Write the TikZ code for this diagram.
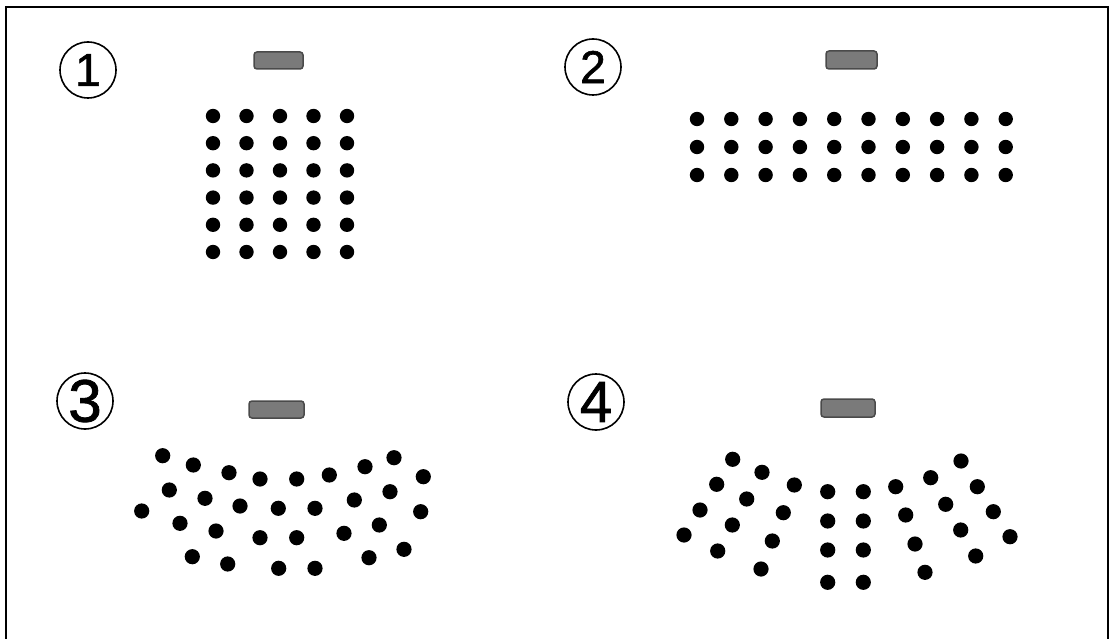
\documentclass[tikz,border=0pt]{standalone}
\usepackage{fontspec}
\setmainfont{Liberation Sans}
\newfontfamily\numfont[FakeBold=1.3]{Liberation Sans}
\definecolor{boardfill}{HTML}{7A7A7A}
\definecolor{boardline}{HTML}{4A4A4A}
\begin{document}
\begin{tikzpicture}[x=1pt,y=-1pt,
  board/.style={fill=boardfill,draw=boardline,line width=1.5pt,rounded corners=3pt},
  numcirc/.style={circle,draw,line width=1.6pt,minimum size=56pt,inner sep=0pt},
  seat/.style={fill=black}]
\useasboundingbox (0,0) rectangle (1111,639);
\fill[white] (0,0) rectangle (1111,639);
% frame
\draw[line width=2.8pt] (6,639) -- (6,7) -- (1108,7) -- (1108,639);
% labels
\node[numcirc,font=\numfont\fontsize{46}{46}\selectfont] (n1) at (88,70) {1};
\node[numcirc,font=\numfont\fontsize{46}{46}\selectfont] (n2) at (593,67) {2};
\node[numcirc,font=\numfont\fontsize{60}{60}\selectfont] (n3) at (85,401) {3};
\node[numcirc,font=\numfont\fontsize{58}{58}\selectfont] (n4) at (596,402) {4};
% boards
\draw[board] (254,52) rectangle (303,69);
\draw[board] (826,51) rectangle (877,69);
\draw[board] (249,401) rectangle (304,418);
\draw[board] (821,399) rectangle (875,417);
% panel 1
\foreach \i in {0,...,4} \foreach \j in {0,...,5}
  \fill[seat] (213+33.5*\i,116+27.2*\j) circle (7.2);
% panel 2
\foreach \i in {0,...,9} \foreach \j in {0,...,2}
  \fill[seat] (697+34.3*\i,119+28*\j) circle (7.2);
% panel 3
\foreach \p in {(162.7,455.7),(193.3,465),(229,472.7),(260,479),(296.7,479),(329.3,475),(365,466.7),(394,457.7),(423.3,476.7),
  (169.3,490),(205,498.3),(240,506),(278.3,508.3),(315,508.3),(354.3,500),(390,491.7),(420.7,511.7),
  (141.7,511),(180,523.3),(216,531),(260,537.7),(296.7,537.7),(344,533.3),(379.3,525),
  (192.3,556.7),(227.7,564),(278.7,568.3),(315,568.3),(369,557.7),(404,549.3)}
  \fill[seat] \p circle (7.6);
% panel 4
\foreach \p in {(732.7,459.3),(762,472.3),(716.7,484.3),(794.3,485),(746.7,499),(700,510),(783.3,512.7),(732.3,525),(684,535),(772.3,541),(717.7,551),(761,569),
  (827.7,491.7),(863.3,491.7),(827.7,521),(863.3,521),(827.7,550),(863.3,550),(827.7,582.3),(863.3,582.3),
  (895.7,486.7),(930.7,477.7),(961,461),(977.3,486.7),(945.7,504.3),(905.7,515),(993.3,511.7),(960.7,530),(915,544),(1010,536.7),(975.7,556),(925,572.3)}
  \fill[seat] \p circle (7.6);
\end{tikzpicture}
\end{document}
